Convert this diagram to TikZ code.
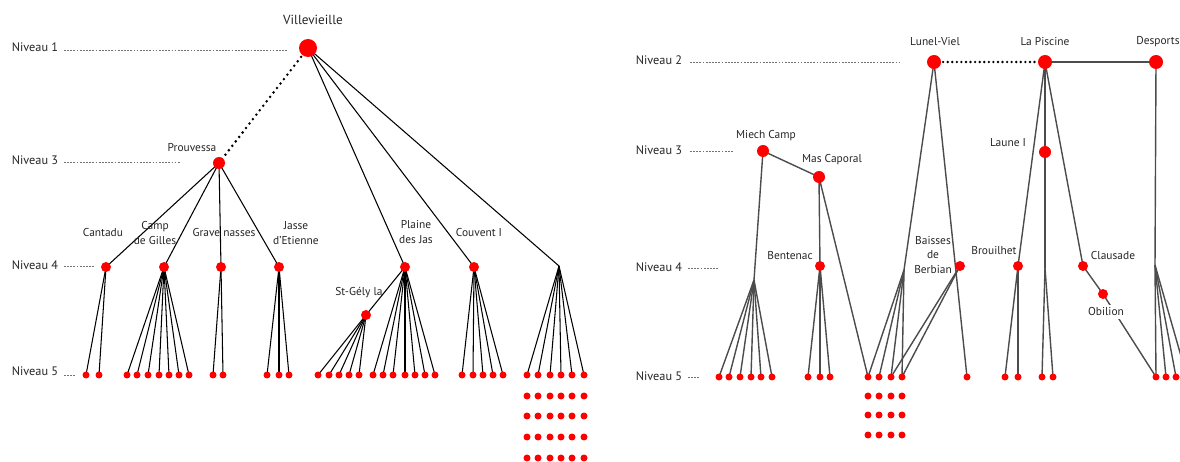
\documentclass[tikz,border=0pt]{standalone}
\usepackage{fontspec}
\setmainfont{PT Sans}
\usetikzlibrary{backgrounds}
\newcommand\leaffan[5]{%
  \foreach \xx [count=\ii] in {#4}{%
    \node[leaf] (#2\ii) at (\xx,#3) {};
    \begin{pgfonlayer}{background}\draw[#5] (#1) -- (#2\ii.center);\end{pgfonlayer}}}
\newcommand\leafrow[3]{%
  \foreach \xx [count=\ii] in {#3}{\node[leaf] (#1\ii) at (\xx,#2) {};}}
\begin{document}
\begin{tikzpicture}[x=0.02cm,y=-0.02cm,
  dotA/.style={circle,fill=red,inner sep=0pt,minimum size=#1},
  leaf/.style={dotA=0.14cm},
  lbl/.style={font=\fontsize{6.5}{8.6}\selectfont,text=black!85,inner sep=0pt,align=center},
  niv/.style={font=\fontsize{7}{8}\selectfont,text=black!85,inner sep=0pt},
  guide/.style={black!55,line width=0.45pt,dash pattern=on 1pt off 0.8pt},
  ledge/.style={black,line width=0.6pt},
  redge/.style={black!70,line width=0.8pt},
  dotted link/.style={black,line width=1.6pt,dash pattern=on 0pt off 3.2pt,line cap=round},
  dotted rlink/.style={black,line width=1.5pt,dash pattern=on 0pt off 2.6pt,line cap=round}]
\useasboundingbox (0,0) rectangle (1180,462);
\clip (0,0) rectangle (1180,462);

% ---------------- LEFT TREE ----------------
\node[niv] (n1) at (35,47) {Niveau 1};
\node[niv] (n3) at (35,160) {Niveau 3};
\node[niv] (n4) at (35,265) {Niveau 4};
\node[niv] (n5) at (35,371) {Niveau 5};
\coordinate (g1s) at (64,50);  \coordinate (g1e) at (287,50);
\coordinate (g3s) at (64,162); \coordinate (g3e) at (181,162);
\coordinate (g4s) at (64,266); \coordinate (g4e) at (94,266);
\coordinate (g5s) at (64,375); \coordinate (g5e) at (75,375);
\draw[guide] (g1s) -- (g1e);
\draw[guide] (g3s) -- (g3e);
\draw[guide] (g4s) -- (g4e);
\draw[guide] (g5s) -- (g5e);

\node[dotA=0.36cm] (vil) at (308,48) {};
\node[lbl,font=\fontsize{7.5}{9}\selectfont] (lvil) at (313,20) {Villevieille};
\node[dotA=0.24cm] (prv) at (219,163) {};
\node[lbl] (lprv) at (192,148) {Prouvessa};

\node[dotA=0.2cm] (cant) at (106,267) {};
\node[dotA=0.2cm] (camp) at (164,267) {};
\node[dotA=0.2cm] (grav) at (221,267) {};
\node[dotA=0.2cm] (jass) at (279,267) {};
\node[dotA=0.2cm] (plai) at (405,267) {};
\node[dotA=0.2cm] (couv) at (474,267) {};
\coordinate (unk) at (559,266);
\node[dotA=0.2cm] (stg) at (366,315) {};

\node[lbl] (lcant) at (103,233) {Cantadu};
\node[lbl] (lcamp) at (155,233) {Camp\\de Gilles};
\node[lbl] (lgrav) at (224,233) {Grave nasses};
\node[lbl] (ljass) at (296,233) {Jasse\\d'Etienne};
\node[lbl] (lplai) at (416,232) {Plaine\\des Jas};
\node[lbl] (lcouv) at (479,233) {Couvent I};
\node[lbl] (lstg) at (359,293) {St-Gély la};

\begin{pgfonlayer}{background}
\draw[dotted link] (vil.center) -- (prv.center);
\draw[ledge] (vil.center) -- (plai.center);
\draw[ledge] (vil.center) -- (couv.center);
\draw[ledge] (vil.center) -- (unk);
\draw[ledge] (prv.center) -- (cant.center);
\draw[ledge] (prv.center) -- (camp.center);
\draw[ledge] (prv.center) -- (grav.center);
\draw[ledge] (prv.center) -- (jass.center);
\draw[ledge] (plai.center) -- (stg.center);
\end{pgfonlayer}

\leaffan{cant.center}{ca}{375}{86,99}{ledge}
\leaffan{camp.center}{cg}{375}{127,137,148,159,169,179,189}{ledge}
\leaffan{grav.center}{gn}{375}{213,223}{ledge}
\leaffan{jass.center}{je}{375}{267,279,289}{ledge}
\leaffan{stg.center}{sg}{375}{318,329,339,349,359}{ledge}
\leaffan{plai.center}{pj}{375}{373,383,393,405,415,425,435}{ledge}
\leaffan{couv.center}{cv}{375}{462,473,483,493,503}{ledge}
\leaffan{unk}{uk}{375}{527,538,550,561,572,584}{ledge}
\leafrow{ukb}{396}{527,538,550,561,572,584}
\leafrow{ukc}{416}{527,538,550,561,572,584}
\leafrow{ukd}{437}{527,538,550,561,572,584}
\leafrow{uke}{458}{527,538,550,561,572,584}

% ---------------- RIGHT TREE ----------------
\node[niv] (m2) at (659,60) {Niveau 2};
\node[niv] (m3) at (659,150) {Niveau 3};
\node[niv] (m4) at (659,267) {Niveau 4};
\node[niv] (m5) at (659,376) {Niveau 5};
\coordinate (h2s) at (690,62);  \coordinate (h2e) at (899,62);
\coordinate (h3s) at (690,151); \coordinate (h3e) at (733,151);
\coordinate (h4s) at (688,268); \coordinate (h4e) at (719,268);
\coordinate (h5s) at (688,377); \coordinate (h5e) at (700,377);
\draw[guide] (h2s) -- (h2e);
\draw[guide] (h3s) -- (h3e);
\draw[guide] (h4s) -- (h4e);
\draw[guide] (h5s) -- (h5e);

\node[dotA=0.28cm] (lun) at (934,62) {};
\node[dotA=0.28cm] (pis) at (1045,62) {};
\node[dotA=0.28cm] (des) at (1156,62) {};
\node[dotA=0.24cm] (lau) at (1045,152) {};
\node[dotA=0.24cm] (mie) at (763,151) {};
\node[dotA=0.24cm] (mas) at (819,177) {};
\node[dotA=0.2cm] (ben) at (820,266) {};
\node[dotA=0.2cm] (bai) at (960,266) {};
\node[dotA=0.2cm] (bro) at (1018,266) {};
\node[dotA=0.2cm] (cla) at (1083,266) {};
\node[dotA=0.2cm] (obi) at (1103,294) {};
\coordinate (fanM) at (754,280);
\coordinate (fanL) at (904,270);
\coordinate (fanP) at (1045,268);
\coordinate (fanD) at (1155,265);

\node[lbl] (llun) at (935,42) {Lunel-Viel};
\node[lbl] (lpis) at (1045,42) {La Piscine};
\node[lbl] (ldes) at (1158,42) {Desports};
\node[lbl] (llau) at (1008,143) {Laune I};
\node[lbl] (lmie) at (766,136) {Miech Camp};
\node[lbl] (lmas) at (832,160) {Mas Caporal};
\node[lbl] (lben) at (790,256) {Bentenac};
\node[lbl,font=\fontsize{6.5}{8}\selectfont] (lbai) at (933,255) {Baisses\\de\\Berbian};
\node[lbl] (lbro) at (994,251) {Brouilhet};
\node[lbl] (lcla) at (1113,256) {Clausade};

\begin{pgfonlayer}{background}
\draw[dotted rlink] (lun.center) -- (pis.center);
\draw[redge] (pis.center) -- (des.center);
\draw[redge] (mie.center) -- (mas.center);
\draw[redge] (mie.center) -- (fanM);
\draw[redge] (mas.center) -- (ben.center);
\draw[redge] (lun.center) -- (fanL);
\draw[redge] (pis.center) -- (bro.center);
\draw[redge] (pis.center) -- (lau.center);
\draw[redge] (lau.center) -- (fanP);
\draw[redge] (pis.center) -- (cla.center);
\draw[redge] (cla.center) -- (obi.center);
\draw[redge] (des.center) -- (fanD);
\end{pgfonlayer}

\leaffan{fanM}{mc}{377}{719,729,740,751,761,772}{redge}
\leaffan{ben.center}{bt}{377}{808,820,830}{redge}
\leaffan{fanL}{bb}{377}{868,879,891,902}{redge}
\leafrow{bbb}{396}{868,879,891,902}
\leafrow{bbc}{415}{868,879,891,902}
\leafrow{bbd}{435}{868,879,891,902}
\leaffan{lun.center}{lv}{377}{967}{redge}
\leaffan{bro.center}{br}{377}{1005,1018}{redge}
\leaffan{fanP}{lp}{377}{1042,1053}{redge}
\leaffan{fanD}{dp}{377}{1156,1166,1176,1187}{redge}
\begin{pgfonlayer}{background}
\draw[redge] (mas.center) -- (bb1.center);
\draw[redge] (bai.center) -- (bb3.center);
\draw[redge] (bai.center) -- (bb4.center);
\draw[redge] (obi.center) -- (dp1.center);
\end{pgfonlayer}
\node[lbl,fill=white,inner sep=1.5pt] (lobi) at (1106,312) {Obilion};
\end{tikzpicture}
\end{document}
